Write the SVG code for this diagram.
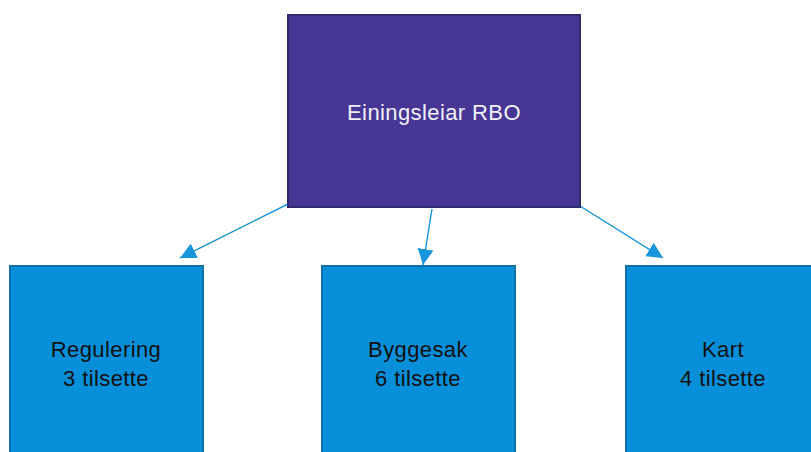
<svg xmlns="http://www.w3.org/2000/svg" width="811" height="452" viewBox="0 0 811 452">
<style>
.top{fill:#473693;stroke:#2f2a72;stroke-width:2}
.unit{fill:#0790d9;stroke:#0c6fa8;stroke-width:2}
.t{font-family:"Liberation Sans",Arial,sans-serif;font-size:22px;letter-spacing:0.4px;text-anchor:middle}
.tw{fill:#f0f0f8}
.tb{fill:#111}
.c{stroke:#1796dc;stroke-width:1.4;fill:none;marker-end:url(#ah)}
</style>
<defs>
<marker id="ah" markerUnits="userSpaceOnUse" markerWidth="18" markerHeight="18" refX="16" refY="8" orient="auto">
<path d="M0,0 L16,8 L0,16 Z" fill="#1796dc"/>
</marker>
</defs>
<rect width="811" height="452" fill="#fff"/>
<g id="connectors">
<line class="c" x1="288" y1="204" x2="180" y2="258"/>
<line class="c" x1="432" y1="209" x2="423" y2="265"/>
<line class="c" x1="580" y1="206" x2="663" y2="258"/>
</g>
<g id="node-rbo">
<rect class="top" x="288" y="15" width="292" height="192"/>
<text class="t tw" x="434" y="120">Einingsleiar RBO</text>
</g>
<g id="node-regulering">
<rect class="unit" x="10" y="266" width="193" height="200"/>
<text class="t tb" x="106" y="357">Regulering</text>
<text class="t tb" x="106" y="386">3 tilsette</text>
</g>
<g id="node-byggesak">
<rect class="unit" x="322" y="266" width="193" height="200"/>
<text class="t tb" x="418" y="357">Byggesak</text>
<text class="t tb" x="418" y="386">6 tilsette</text>
</g>
<g id="node-kart">
<rect class="unit" x="626" y="266" width="200" height="200"/>
<text class="t tb" x="723" y="357">Kart</text>
<text class="t tb" x="723" y="386">4 tilsette</text>
</g>
</svg>
